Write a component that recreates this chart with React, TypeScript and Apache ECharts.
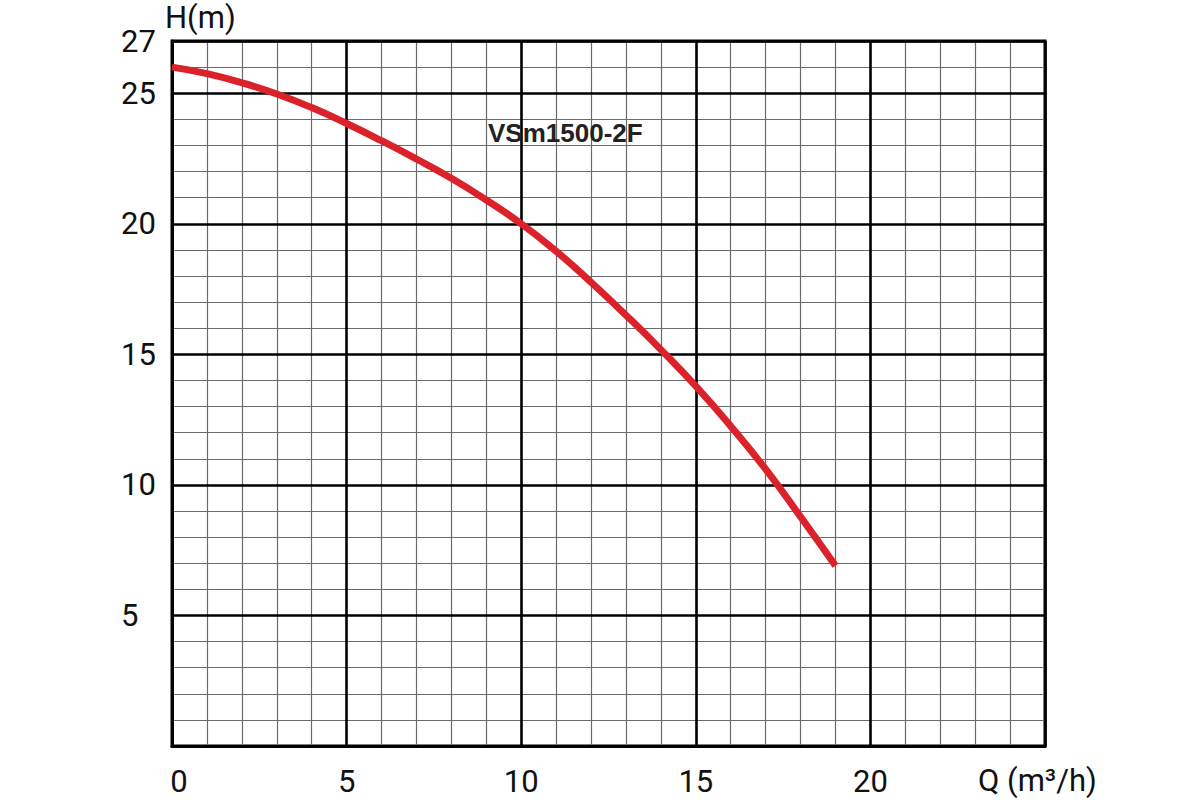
import React, { useEffect, useRef } from "react";
import * as echarts from "echarts";

const flowQ = [0, 1, 2, 3, 4, 5, 6, 7, 8, 9, 10, 11, 12, 13, 14, 15, 16, 17, 18, 19];
const headH = [26.0, 25.75, 25.4, 24.97, 24.45, 23.84, 23.18, 22.48, 21.74, 20.91, 20.0, 18.95, 17.76, 16.5, 15.18, 13.78, 12.25, 10.6, 8.78, 6.9];
const yTickLabels = ["5", "10", "15", "20", "25", "27"];
const xTickLabels = ["0", "5", "10", "15", "20"];
const modelName = "VSm1500-2F";
const yName = "H(m)";
const xName = "Q (m³/h)";

const labelFont = "Roboto, 'Liberation Sans', sans-serif";

export default function App() {
  const ref = useRef<HTMLDivElement>(null);
  useEffect(() => {
    if (!ref.current) return;
    const chart = echarts.init(ref.current, undefined, { renderer: "svg" });
    const minorLine = { show: true, lineStyle: { color: "#6b6b6b", width: 1.2, type: "solid" as const } };
    const majorLine = { show: true, lineStyle: { color: "#000", width: 2.6, type: "solid" as const } };
    chart.setOption({
      animation: false,
      backgroundColor: "#fff",
      grid: {
        left: 172,
        right: 155,
        top: 41,
        bottom: 54,
        outerBoundsMode: "none",
        containLabel: false,
        show: true,
        borderColor: "#000",
        borderWidth: 3,
        backgroundColor: "transparent",
      },
      xAxis: [
        {
          type: "value",
          position: "bottom",
          min: 0,
          max: 25,
          interval: 1,
          z: 0,
          axisLine: { show: false },
          axisTick: { show: false },
          axisLabel: { show: false },
          splitLine: minorLine,
        },
        {
          type: "value",
          position: "bottom",
          min: 0,
          max: 25,
          interval: 5,
          z: 1,
          axisLine: { show: true, onZero: false, lineStyle: { color: "#000", width: 3 } },
          axisTick: { show: false },
          splitLine: majorLine,
          axisLabel: {
            margin: 20,
            fontFamily: labelFont,
            fontSize: 31,
            color: "#111",
            formatter: (v: number) => {
              const s = String(v);
              if (!xTickLabels.includes(s)) return "";
              return v === 0 ? "{z|0}" : s;
            },
            rich: {
              z: { fontFamily: labelFont, fontSize: 31, color: "#111", padding: [0, 0, 0, 14] },
            },
          },
        },
      ],
      yAxis: [
        {
          type: "value",
          position: "left",
          min: 0,
          max: 27,
          interval: 1,
          z: 0,
          axisLine: { show: false },
          axisTick: { show: false },
          axisLabel: { show: false },
          splitLine: minorLine,
        },
        {
          type: "value",
          min: 0,
          max: 27,
          interval: 5,
          z: 1,
          position: "left",
          axisLine: { show: true, onZero: false, lineStyle: { color: "#000", width: 3 } },
          axisTick: { show: false },
          splitLine: majorLine,
          axisLabel: {
            margin: 51,
            align: "left",
            fontFamily: labelFont,
            fontSize: 31,
            color: "#111",
            formatter: (v: number) => (yTickLabels.includes(String(v)) ? String(v) : ""),
          },
        },
      ],
      series: [
        {
          type: "line",
          xAxisIndex: 1,
          yAxisIndex: 1,
          data: flowQ.map((q, i) => [q, headH[i]]),
          smooth: 0.5,
          symbol: "none",
          lineStyle: { color: "#db222b", width: 7, cap: "butt" },
          z: 5,
        },
      ],
      graphic: [
        {
          type: "text",
          left: 488,
          top: 120,
          z: 10,
          style: {
            text: modelName,
            fontFamily: "'Liberation Sans', Arial, sans-serif",
            fontWeight: "bold",
            fontSize: 26,
            fill: "#222",
          },
        },
        {
          type: "text",
          left: 165,
          top: 2,
          style: {
            text: yName,
            fontFamily: labelFont,
            fontSize: 31,
            fill: "#111",
          },
        },
        {
          type: "text",
          left: 978,
          top: 765,
          style: {
            text: xName,
            fontFamily: labelFont,
            fontSize: 31,
            fill: "#111",
          },
        },
      ],
    });
    return () => chart.dispose();
  }, []);
  return (
    <div
      ref={ref}
      style={{ position: "fixed", left: 0, top: 0, width: 1200, height: 800, background: "#fff" }}
    />
  );
}
